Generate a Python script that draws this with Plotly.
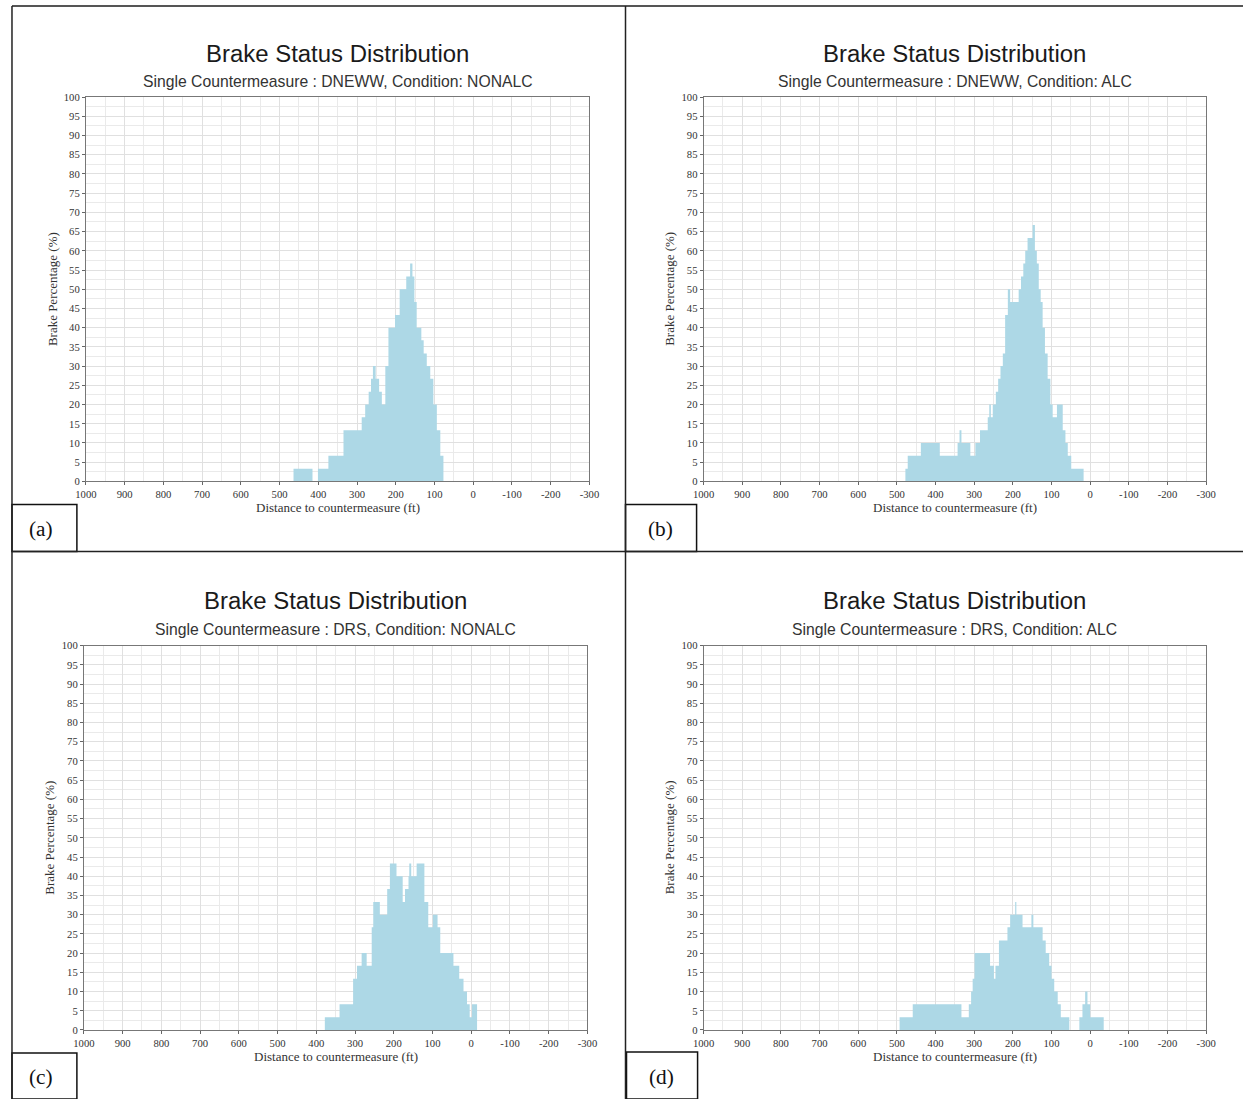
import plotly.graph_objects as go

W, H = 1243, 1099

# Step-histogram data: distance (ft) where each step starts, brake percentage (%) held until next step
a_dist = [464, 415, 401, 374, 335, 288, 279, 270, 264, 259, 252, 243, 236, 227, 219, 202, 190,
          173, 163, 157, 152, 146, 134, 128, 120, 111, 103, 94, 85, 77]
a_pct = [3.3, 0, 3.3, 6.7, 13.3, 16.7, 20, 23.3, 26.7, 30, 26.7, 23.3, 20, 30, 40, 43.3, 50,
         53.3, 56.7, 53.3, 46.7, 40, 36.7, 33.3, 30, 26.7, 20, 13.3, 6.7, 0]

b_dist = [478, 472, 438, 389, 343, 338, 333, 310, 297, 285, 265, 261, 257, 252, 244, 238, 232,
          226, 220, 213, 207, 185, 179, 173, 168, 162, 149, 143, 138, 133, 128, 123, 117, 110,
          103, 97, 86, 71, 64, 58, 49, 17]
b_pct = [3.3, 6.7, 10, 6.7, 10, 13.3, 10, 6.7, 10, 13.3, 16.7, 20, 16.7, 20, 23.3, 26.7, 30,
         33.3, 43.3, 50, 46.7, 50, 53.3, 56.7, 60, 63.3, 66.7, 60, 56.7, 50, 46.7, 40, 33.3, 26.7,
         20, 16.7, 20, 13.3, 10, 6.7, 3.3, 0]

c_dist = [378, 340, 305, 295, 283, 270, 257, 253, 236, 217, 210, 193, 177, 171, 162, 160, 155,
          141, 121, 111, 99, 87, 80, 46, 31, 20, 11, 4, -2, -15]
c_pct = [3.3, 6.7, 13.3, 16.7, 20, 16.7, 26.7, 33.3, 30, 36.7, 43.3, 40, 33.3, 36.7, 40, 43.3, 40,
         43.3, 33.3, 26.7, 30, 26.7, 20, 16.7, 13.3, 10, 6.7, 3.3, 6.7, 0]

d_dist = [493, 459, 333, 314, 308, 304, 299, 259, 249, 245, 236, 214, 207, 194, 191, 175, 152,
          147, 123, 115, 106, 100, 93, 84, 76, 54, 28, 20, 13, 7, 0, -35]
d_pct = [3.3, 6.7, 3.3, 6.7, 10, 13.3, 20, 16.7, 13.3, 16.7, 23.3, 26.7, 30, 33.3, 30, 26.7, 30,
         26.7, 23.3, 20, 16.7, 13.3, 10, 6.7, 3.3, 0, 3.3, 6.7, 10, 6.7, 3.3, 0]

subtitles = [
    "Single Countermeasure : DNEWW, Condition: NONALC",
    "Single Countermeasure : DNEWW, Condition: ALC",
    "Single Countermeasure : DRS, Condition: NONALC",
    "Single Countermeasure : DRS, Condition: ALC",
]
labels = ["(a)", "(b)", "(c)", "(d)"]
title_text = "Brake Status Distribution"
x_title = "Distance to countermeasure (ft)"
y_title = "Brake Percentage (%)"

x_ticks = [1000, 900, 800, 700, 600, 500, 400, 300, 200, 100, 0, -100, -200, -300]
y_ticks = list(range(0, 101, 5))

series = [(a_dist, a_pct), (b_dist, b_pct), (c_dist, c_pct), (d_dist, d_pct)]

# plot-area pixel boxes (left, right, top, bottom) in target-image pixels
boxes = [(86, 589, 98, 482), (703, 1205, 98, 482), (84, 587, 646, 1030), (703, 1205, 646, 1030)]
title_y = [(54, 82), (54, 82), (601, 630), (601, 630)]
label_boxes = [(8, 77, 505, 552), (625, 696, 505, 552), (8, 77, 1053, 1099), (626, 697, 1052, 1099)]

# compensation for the capture's slight shrink around the page centre
SX, SY = 0.982, 0.989
CX, CY = 621.5, 549.5
FS = 1 / 0.985


def px(x):
    return (CX + (x - CX) / SX) / W


def py(y):
    return 1 - (CY + (y - CY) / SY) / H


FILL = "#ADD8E6"
fig = go.Figure()
annotations = []
shapes = []
layout_axes = {}
serif = "Liberation Serif, Times New Roman, serif"
sans = "Liberation Sans, Arial, sans-serif"

for i, ((dist, pct), box) in enumerate(zip(series, boxes)):
    n = "" if i == 0 else str(i + 1)
    fig.add_trace(go.Scatter(
        x=dist, y=pct, mode="lines",
        line=dict(shape="hv", width=0, color=FILL),
        fill="tozeroy", fillcolor=FILL,
        xaxis="x" + n, yaxis="y" + n, hoverinfo="skip", showlegend=False))
    l, r, t, b = box
    tickfont = dict(family=serif, size=10.5 * FS, color="#333")
    layout_axes["xaxis" + n] = dict(
        domain=[px(l), px(r)], anchor="y" + n, range=[1000, -300],
        tickvals=x_ticks, ticktext=[str(v) for v in x_ticks],
        showgrid=True, gridcolor="#e0e0e0", gridwidth=1,
        minor=dict(dtick=50, tick0=0, showgrid=True, gridcolor="#eaeaea"),
        showline=True, linecolor="#777", linewidth=1, mirror=True,
        ticks="outside", ticklen=3, tickcolor="#666",
        tickfont=tickfont, zeroline=False, fixedrange=True)
    layout_axes["yaxis" + n] = dict(
        domain=[py(b), py(t)], anchor="x" + n, range=[0, 100],
        tickvals=y_ticks, ticktext=[str(v) for v in y_ticks],
        showgrid=True, gridcolor="#e0e0e0", gridwidth=1,
        minor=dict(dtick=2.5, tick0=0, showgrid=True, gridcolor="#eaeaea"),
        showline=True, linecolor="#777", linewidth=1, mirror=True,
        ticks="outside", ticklen=3, tickcolor="#666",
        tickfont=tickfont, zeroline=False, fixedrange=True)

    cx = (l + r) / 2
    ty, sy = title_y[i]
    annotations.append(dict(x=px(cx), y=py(ty), xref="paper", yref="paper", text=title_text,
                            showarrow=False, xanchor="center", yanchor="middle",
                            font=dict(family=sans, size=23.6 * FS, color="#1a1a1a")))
    annotations.append(dict(x=px(cx), y=py(sy), xref="paper", yref="paper", text=subtitles[i],
                            showarrow=False, xanchor="center", yanchor="middle",
                            font=dict(family=sans, size=15.5 * FS, color="#333")))
    annotations.append(dict(x=px(cx), y=py(b + 26), xref="paper", yref="paper", text=x_title,
                            showarrow=False, xanchor="center", yanchor="middle",
                            font=dict(family=serif, size=12.8 * FS, color="#333")))
    annotations.append(dict(x=px(l - 34), y=py((t + b) / 2), xref="paper", yref="paper", text=y_title,
                            showarrow=False, xanchor="center", yanchor="middle", textangle=-90,
                            font=dict(family=serif, size=12.8 * FS, color="#333")))
    lx0, lx1, ly0, ly1 = label_boxes[i]
    shapes.append(dict(type="rect", xref="paper", yref="paper", x0=max(px(lx0), 1 / W), x1=px(lx1),
                       y0=py(ly1), y1=py(ly0), line=dict(color="#111", width=1.5)))
    annotations.append(dict(x=px((lx0 + lx1) / 2 - 1), y=py((ly0 + ly1) / 2 + 1), xref="paper", yref="paper",
                            text=labels[i], showarrow=False, xanchor="center", yanchor="middle",
                            font=dict(family=serif, size=21 * FS, color="#111")))

# outer panel borders
border = dict(color="#222", width=1.5)
left_edge = max(px(8), 1 / W)
top_edge = min(py(4), 1 - 1 / H)
shapes += [
    dict(type="line", xref="paper", yref="paper", x0=left_edge, x1=1.02, y0=top_edge, y1=top_edge,
         line=dict(color="#555", width=2)),
    dict(type="line", xref="paper", yref="paper", x0=left_edge, x1=left_edge, y0=top_edge, y1=-0.02, line=border),
    dict(type="line", xref="paper", yref="paper", x0=px(625), x1=px(625), y0=top_edge, y1=-0.02, line=border),
    dict(type="line", xref="paper", yref="paper", x0=left_edge, x1=1.02, y0=py(552), y1=py(552), line=border),
]

fig.update_layout(
    width=W, height=H, margin=dict(l=0, r=0, t=0, b=0),
    paper_bgcolor="white", plot_bgcolor="white",
    annotations=annotations, shapes=shapes, showlegend=False,
    **layout_axes)

fig.write_html(
    "out.html",
    config={"displayModeBar": False},
    post_script="document.body.style.margin='0';document.body.style.padding='0';"
                "document.documentElement.style.overflow='hidden';document.body.style.overflow='hidden';",
)
